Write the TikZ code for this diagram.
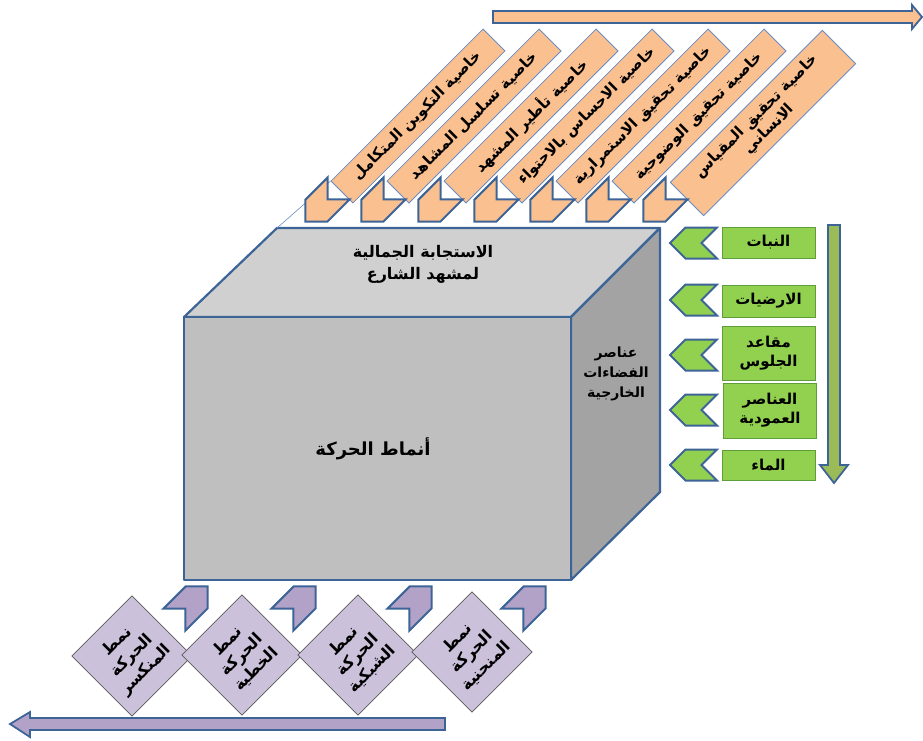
\documentclass[tikz,border=0pt]{standalone}
\usepackage{fontspec}
\setmainfont{Liberation Sans}
\newfontfamily\arabicfont[Script=Arabic]{DejaVu Sans}
\TeXXeTstate=1
\usetikzlibrary{shapes.symbols}

\definecolor{frameblue}{HTML}{3D6497}
\definecolor{thinblue}{HTML}{6A8CC0}
\definecolor{peach}{HTML}{FAC090}
\definecolor{leafgreen}{HTML}{92D050}
\definecolor{leafedge}{HTML}{5E9E3A}
\definecolor{olivegreen}{HTML}{9BBB59}
\definecolor{lilac}{HTML}{CCC1DA}
\definecolor{lilacdark}{HTML}{B3A2C7}
\definecolor{topgray}{HTML}{D0D0D0}
\definecolor{frontgray}{HTML}{BFBFBF}
\definecolor{sidegray}{HTML}{A3A3A3}

\newcommand\artxt[1]{\beginR#1\endR}

\tikzset{
  arfont/.style 2 args={font=\arabicfont\bfseries\fontsize{#1}{#2}\selectfont},
  cubeface/.style={draw=frameblue, line width=2.2pt, line join=round},
  bandarrow/.style={draw=frameblue, line width=1.8pt, line join=miter},
  propbox/.style={rectangle, rotate=45, draw=thinblue, line width=0.8pt, fill=peach,
    minimum width=215, minimum height=31, inner sep=0pt, align=center, arfont={15}{18}},
  elembox/.style={rectangle, draw=leafedge, line width=0.8pt, fill=leafgreen,
    minimum width=93, inner sep=0pt, align=center, arfont={15}{19}},
  movebox/.style={rectangle, rotate=45, draw=black!65, line width=0.7pt, fill=lilac,
    minimum width=85, minimum height=85, inner sep=0pt, align=center, arfont={16}{20}},
  chevron/.style={signal, signal to=east, signal from=west, signal pointer angle=90,
    minimum width=47, minimum height=31, inner sep=0pt, draw=frameblue, line width=2pt},
}

\begin{document}
\begin{tikzpicture}[x=1pt,y=-1pt]
\useasboundingbox (0,0) rectangle (923,740);

% arrows along the three sides
\draw[bandarrow, fill=peach] (493,11) -- (912,11) -- (912,5) -- (922,17) -- (912,29)
  -- (912,23) -- (493,23) -- cycle;
\draw[bandarrow, fill=olivegreen] (828,225) -- (840,225) -- (840,465) -- (848,465)
  -- (834,483) -- (820,465) -- (828,465) -- cycle;
\draw[bandarrow, fill=lilacdark] (445,718) -- (30,718) -- (30,712) -- (10,724) -- (30,737)
  -- (30,730) -- (445,730) -- cycle;

% cube
\coordinate (ftl) at (184,317);
\coordinate (ftr) at (571,317);
\coordinate (fbr) at (571,580);
\coordinate (fbl) at (184,580);
\coordinate (btl) at (277,228);
\coordinate (btr) at (660,228);
\coordinate (bbr) at (660,492);
\draw[cubeface, fill=topgray] (ftl) -- (btl) -- (btr) -- (ftr) -- cycle;
\draw[cubeface, fill=sidegray] (ftr) -- (btr) -- (bbr) -- (fbr) -- cycle;
\draw[cubeface, fill=frontgray] (ftl) -- (ftr) -- (fbr) -- (fbl) -- cycle;

\node[arfont={16}{22}, align=center] (aesth) at (423,264)
  {\artxt{الاستجابة الجمالية}\\\artxt{لمشهد الشارع}};
\node[arfont={14}{20}, align=center] (outer) at (616,374)
  {\artxt{عناصر}\\\artxt{الفضاءات}\\\artxt{الخارجية}};
\node[arfont={18}{22}] (moves) at (373,449) {\artxt{أنماط الحركة}};

% properties
\node[propbox] (p1) at (418,116) {\artxt{خاصية التكوين المتكامل}};
\node[propbox] (p2) at (474,116) {\artxt{خاصية تسلسل المشاهد}};
\node[propbox] (p3) at (531,116) {\artxt{خاصية تأطير المشهد}};
\node[propbox] (p4) at (587,116) {\artxt{خاصية الاحساس بالاحتواء}};
\node[propbox] (p5) at (643,116) {\artxt{خاصية تحقيق الاستمرارية}};
\node[propbox] (p6) at (699,116) {\artxt{خاصية تحقيق الوضوحية}};
\node[propbox, minimum height=47] (p7) at (763,123)
  {\artxt{خاصية تحقيق المقياس}\\\artxt{الانساني}};
\draw[thinblue, line width=0.6pt] (btl) -- (p1.north west);

\node[chevron, rotate=225, fill=peach] (pc1) at (322,205) {};
\node[chevron, rotate=225, fill=peach] (pc2) at (378,205) {};
\node[chevron, rotate=225, fill=peach] (pc3) at (435,205) {};
\node[chevron, rotate=225, fill=peach] (pc4) at (491,205) {};
\node[chevron, rotate=225, fill=peach] (pc5) at (547,205) {};
\node[chevron, rotate=225, fill=peach] (pc6) at (603,205) {};
\node[chevron, rotate=225, fill=peach] (pc7) at (660,205) {};

% elements
\node[elembox, minimum height=31] (e1) at (768.5,242.5) {\artxt{النبات}};
\node[elembox, minimum height=32] (e2) at (768.5,301) {\artxt{الارضيات}};
\node[elembox, minimum height=54] (e3) at (768.5,353) {\artxt{مقاعد}\\\artxt{الجلوس}};
\node[elembox, minimum height=55] (e4) at (770,410.5) {\artxt{العناصر}\\\artxt{العمودية}};
\node[elembox, minimum height=30] (e5) at (768.5,465) {\artxt{الماء}};

\node[chevron, rotate=180, fill=leafgreen] (ec1) at (693.5,243) {};
\node[chevron, rotate=180, fill=leafgreen] (ec2) at (693.5,300) {};
\node[chevron, rotate=180, fill=leafgreen] (ec3) at (693.5,355) {};
\node[chevron, rotate=180, fill=leafgreen] (ec4) at (693.5,410) {};
\node[chevron, rotate=180, fill=leafgreen] (ec5) at (693.5,465) {};

% movement patterns
\node[movebox] (m1) at (132,656) {\artxt{نمط}\\\artxt{الحركة}\\\artxt{المنكسر}};
\node[movebox] (m2) at (242,655) {\artxt{نمط}\\\artxt{الحركة}\\\artxt{الخطية}};
\node[movebox] (m3) at (358,655) {\artxt{نمط}\\\artxt{الحركة}\\\artxt{الشبكية}};
\node[movebox] (m4) at (472,652) {\artxt{نمط}\\\artxt{الحركة}\\\artxt{المنحنية}};

\node[chevron, rotate=45, fill=lilacdark] (mc1) at (191,603) {};
\node[chevron, rotate=45, fill=lilacdark] (mc2) at (299,603) {};
\node[chevron, rotate=45, fill=lilacdark] (mc3) at (415,603) {};
\node[chevron, rotate=45, fill=lilacdark] (mc4) at (529,603) {};
\end{tikzpicture}
\end{document}
